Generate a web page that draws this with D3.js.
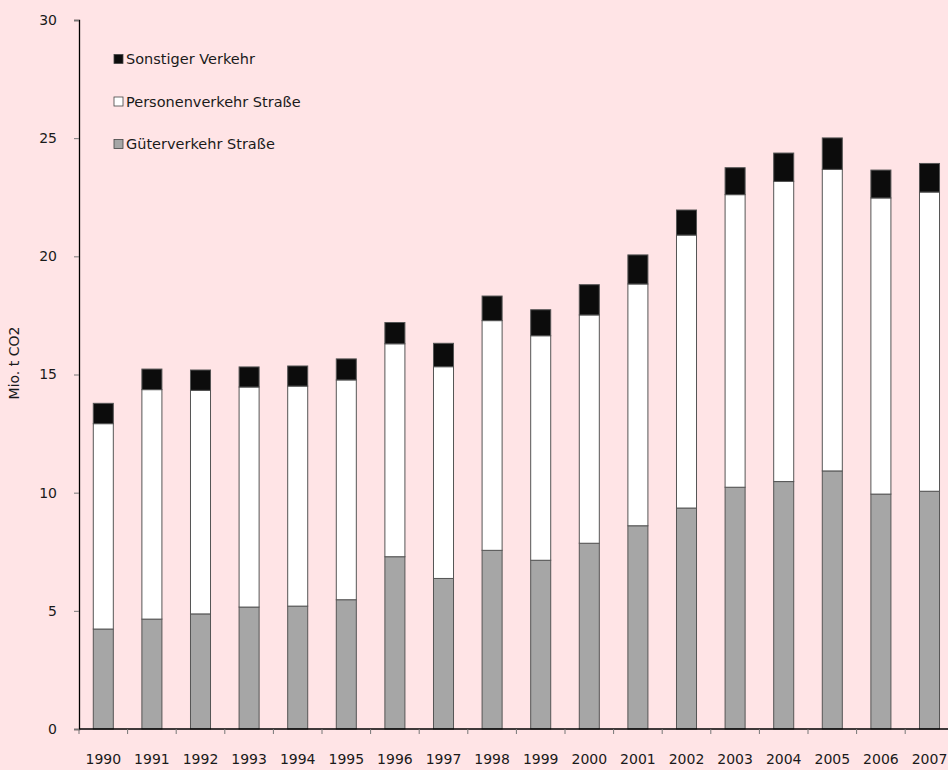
<!DOCTYPE html>
<html><head><meta charset="utf-8">
<script src="https://cdn.jsdelivr.net/npm/d3@7"></script>
<style>
html,body{margin:0;padding:0;background:#FFE4E6;}
svg{display:block;}
text{font-family:"DejaVu Sans",sans-serif;fill:#1a1a1a;}
</style></head>
<body>
<script>
const years = ["1990","1991","1992","1993","1994","1995","1996","1997","1998","1999","2000","2001","2002","2003","2004","2005","2006","2007"];
const gueterverkehr = [4.23,4.65,4.87,5.16,5.20,5.47,7.29,6.37,7.56,7.14,7.86,8.60,9.35,10.23,10.47,10.92,9.94,10.06];
const personenverkehr = [8.69,9.71,9.46,9.31,9.31,9.30,9.01,8.96,9.72,9.50,9.66,10.23,11.55,12.38,12.70,12.76,12.53,12.66];
const sonstiger = [0.86,0.87,0.86,0.85,0.85,0.89,0.90,0.99,1.04,1.10,1.28,1.23,1.06,1.14,1.20,1.33,1.18,1.21];
const yTicks = [0,5,10,15,20,25,30];
const seriesNames = ["Güterverkehr Straße","Personenverkehr Straße","Sonstiger Verkehr"];
const seriesColors = ["#A6A6A6","#FFFFFF","#0C0C0C"];
const yTitle = "Mio. t CO2";

const W = 948, H = 770;
const mLeft = 79, mTop = 20, mBottom = 729;
const plotRight = mLeft + 18 * 48.6;
const FS = 14;

const svg = d3.select("body").append("svg").attr("width", W).attr("height", H);

const x = d3.scaleBand().domain(years).range([mLeft, plotRight]).paddingInner(0.588).paddingOuter(0.294);
const y = d3.scaleLinear().domain([0, 30]).range([mBottom, mTop]);

const table = years.map((yr, i) => ({year: yr, g: gueterverkehr[i], p: personenverkehr[i], s: sonstiger[i]}));
const stack = d3.stack().keys(["g","p","s"]);
const layers = stack(table);

// bars
svg.append("g").selectAll("g").data(layers).join("g")
  .attr("fill", (d, i) => seriesColors[i])
  .selectAll("rect").data(d => d).join("rect")
  .attr("x", d => x(d.data.year))
  .attr("width", x.bandwidth())
  .attr("y", d => y(d[1]))
  .attr("height", d => y(d[0]) - y(d[1]))
  .attr("stroke", "#555")
  .attr("stroke-width", 1);

// y axis
const yAxis = svg.append("g").attr("transform", `translate(${mLeft},0)`)
  .call(d3.axisLeft(y).tickValues(yTicks).tickSize(5).tickPadding(17).tickFormat(d3.format("d")));
yAxis.select(".domain").attr("stroke", "#000").attr("stroke-width", 1.3);
yAxis.selectAll(".tick line").attr("stroke", "#777");
yAxis.selectAll(".tick text").attr("font-size", FS).attr("font-family", "DejaVu Sans").attr("fill", "#1a1a1a");

// x axis
const xAxis = svg.append("g").attr("transform", `translate(0,${mBottom})`)
  .call(d3.axisBottom(x).tickSize(0).tickPadding(25));
xAxis.select(".domain").attr("stroke", "#000").attr("stroke-width", 1.3).attr("d", `M${mLeft},0H${plotRight}`);
xAxis.selectAll(".tick text").attr("font-size", FS).attr("font-family", "DejaVu Sans").attr("fill", "#1a1a1a");
// boundary ticks between categories
const step = x.step();
const boundaries = d3.range(years.length + 1).map(i => mLeft + i * step);
svg.append("g").selectAll("line").data(boundaries).join("line")
  .attr("x1", d => d).attr("x2", d => d)
  .attr("y1", mBottom).attr("y2", mBottom + 5)
  .attr("stroke", "#777");

// y title
svg.append("text")
  .attr("transform", `translate(19,363) rotate(-90)`)
  .attr("text-anchor", "middle")
  .attr("font-size", FS)
  .text(yTitle);

// legend
const legendItems = [2,1,0];
const leg = svg.append("g");
legendItems.forEach((si, k) => {
  const cy = 59 + k * 42.5;
  leg.append("rect").attr("x", 114).attr("y", cy - 4.5).attr("width", 9).attr("height", 9)
    .attr("fill", seriesColors[si]).attr("stroke", "#444").attr("stroke-width", 0.8);
  leg.append("text").attr("x", 126).attr("y", cy).attr("dy", "0.35em")
    .attr("font-size", 14.5).text(seriesNames[si]);
});
</script>
</body></html>
